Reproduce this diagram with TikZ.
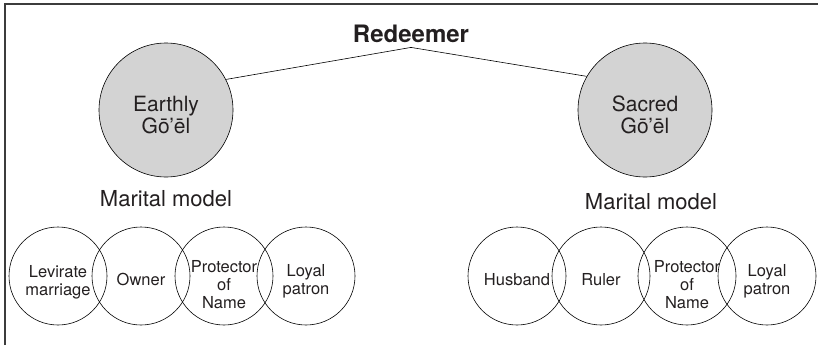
\documentclass[tikz,border=0pt]{standalone}
\usepackage{fontspec}
\setmainfont{TeX Gyre Heros}
\usetikzlibrary{positioning}
\definecolor{inkgray}{RGB}{35,31,32}
\definecolor{discgray}{RGB}{211,211,211}
\definecolor{framegray}{RGB}{60,60,60}

\begin{document}
\begin{tikzpicture}[x=1pt, y=-1pt,
        bigdisc/.style={draw, circle, fill=discgray, minimum size=134pt, inner sep=0pt, line width=0.6pt},
        ring/.style={draw, circle, minimum size=98pt, inner sep=0pt, line width=0.6pt},
        disctext/.style={align=center, inner sep=0pt, text=inkgray, font=\fontsize{21}{22}\selectfont},
        role/.style={align=center, inner sep=0pt, text=inkgray, font=\fontsize{16.5}{18}\selectfont},
        heading/.style={inner sep=0pt, text=inkgray, font=\fontsize{22}{24}\selectfont},
        link/.style={draw, line width=0.6pt},
    ]
        \useasboundingbox (0,0) rectangle (818,345);
        % frame, top and left side only
        \draw[framegray, line width=1.5pt] (5,345) -- (5,4) -- (818,4);

        % title and the two kinds of redeemer
        \node[anchor=base, inner sep=4pt, text=inkgray, font=\fontsize{24}{26}\selectfont\bfseries] (redeemer) at (411,43) {Redeemer};
        \node[bigdisc] (earthly) at (166,110) {};
        \node[bigdisc] (sacred) at (645,110) {};
        \node[disctext] (earthlytxt) at (166,115) {Earthly\\Gō’ēl};
        \node[disctext] (sacredtxt) at (645,115) {Sacred\\Gō’ēl};
        \draw[link] (redeemer.south) -- (earthly.27);
        \draw[link] (redeemer.south) -- (sacred.150);

        \node[heading, anchor=north, below=13pt of earthly] (earthmodel) {Marital model};
        \node[heading, anchor=north, below=16pt of sacred, xshift=6pt] (sacredmodel) {Marital model};

        % rows of overlapping roles
        \foreach \name/\x in {lev/58, own/141, prl/224, pal/306, hus/517, rul/601, prs/687, pas/767} {
            \node[ring] (\name) at (\x,276) {};
        }
        \node[role] (levtxt) at ([yshift=-6pt]lev.center) {Levirate\\marriage};
        \node[role] (owntxt) at ([yshift=-3pt]own.center) {Owner};
        \node[role] (prltxt) at ([yshift=-9pt]prl.center) {Protector\\of\\Name};
        \node[role] (paltxt) at ([yshift=-5pt]pal.center) {Loyal\\patron};
        \node[role] (hustxt) at ([yshift=-4pt]hus.center) {Husband};
        \node[role] (rultxt) at ([yshift=-4pt]rul.center) {Ruler};
        \node[role] (prstxt) at ([yshift=-9pt]prs.center) {Protector\\of\\Name};
        \node[role] (pastxt) at ([yshift=-5pt]pas.center) {Loyal\\patron};
    \end{tikzpicture}
\end{document}
